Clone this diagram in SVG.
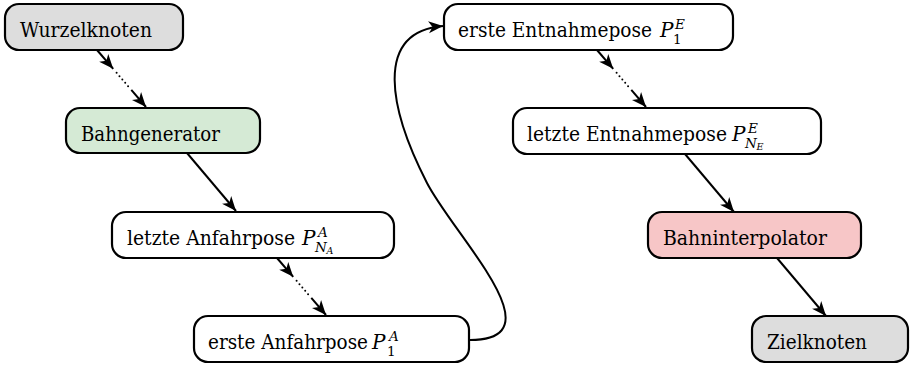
<svg xmlns="http://www.w3.org/2000/svg" xmlns:xlink="http://www.w3.org/1999/xlink" width="913" height="366" viewBox="0 0 913 366">
  <style>
    .node rect { stroke: #000; stroke-width: 2.2; }
    .plain { fill: #fff; }
    .grey { fill: #dddddd; }
    .green { fill: #d5ead5; }
    .red { fill: #f7c6c7; }
    .lbl { font-family: 'DejaVu Serif', 'Liberation Serif', serif; font-size: 20px; fill: #000; }
    .m { font-style: italic; }
    .up { font-style: normal; }
    .s { font-size: 13.5px; }
    .ss { font-size: 9.5px; }
    .edge { fill: none; stroke: #000; stroke-width: 2; }
    .dots { stroke-dasharray: 0 4.4; stroke-linecap: round; }
  </style>
  <defs>
    <marker id="head" markerUnits="userSpaceOnUse" markerWidth="18" markerHeight="16" viewBox="-16 -8 18 16" refX="0" refY="0" orient="auto">
      <path d="M0,0 L-14.5,-6 L-10.5,0 L-14.5,6 Z" fill="#000"/>
    </marker>
    <!-- arrow, dotted gap, arrow: stands for an elided chain of poses -->
    <g id="dotarrow">
      <path class="edge" d="M0,0 L16.2,18.8" marker-end="url(#head)"/>
      <path class="edge dots" d="M19.6,22.8 L31.9,37.1"/>
      <path class="edge" d="M34.3,39.9 L49,57" marker-end="url(#head)"/>
    </g>
  </defs>

  <g id="connectors">
    <use xlink:href="#dotarrow" href="#dotarrow" x="97" y="50"/>
    <path class="edge" d="M187,153 L236,211" marker-end="url(#head)"/>
    <use xlink:href="#dotarrow" href="#dotarrow" x="277" y="258"/>
    <path class="edge" d="M470,340 C560,340 454.5,236.3 427,183 C390.4,111.9 372,32 443,26" marker-end="url(#head)"/>
    <use xlink:href="#dotarrow" href="#dotarrow" x="597" y="50"/>
    <path class="edge" d="M685,154 L734,212" marker-end="url(#head)"/>
    <path class="edge" d="M777,258 L826,316" marker-end="url(#head)"/>
  </g>

  <g id="wurzelknoten" class="node">
    <rect class="grey" x="5" y="4" width="178" height="46" rx="14"/>
    <text class="lbl" x="20" y="36.5" textLength="132" lengthAdjust="spacingAndGlyphs">Wurzelknoten</text>
  </g>

  <g id="bahngenerator" class="node">
    <rect class="green" x="66" y="108" width="194" height="45" rx="14"/>
    <text class="lbl" x="81" y="140.5" textLength="139" lengthAdjust="spacingAndGlyphs">Bahngenerator</text>
  </g>

  <g id="letzte-anfahrpose" class="node">
    <rect class="plain" x="112" y="212" width="282" height="46" rx="14"/>
    <text class="lbl" x="127" y="244.5" textLength="168" lengthAdjust="spacingAndGlyphs">letzte Anfahrpose</text>
    <text class="lbl m" x="302" y="244.5">P<tspan class="s" x="318" y="236.5">A</tspan><tspan class="s" x="315" y="251.5">N</tspan><tspan class="ss" x="326.5" y="253.5">A</tspan></text>
  </g>

  <g id="erste-anfahrpose" class="node">
    <rect class="plain" x="194" y="316" width="275" height="46" rx="14"/>
    <text class="lbl" x="208" y="348.5" textLength="160" lengthAdjust="spacingAndGlyphs">erste Anfahrpose</text>
    <text class="lbl m" x="372" y="348.5">P<tspan class="s" x="389" y="340.5">A</tspan><tspan class="s up" x="387" y="355.5">1</tspan></text>
  </g>

  <g id="erste-entnahmepose" class="node">
    <rect class="plain" x="444" y="4" width="289" height="46" rx="14"/>
    <text class="lbl" x="458" y="36.5" textLength="194" lengthAdjust="spacingAndGlyphs">erste Entnahmepose</text>
    <text class="lbl m" x="660" y="36.5">P<tspan class="s" x="675" y="28.5">E</tspan><tspan class="s up" x="673" y="43.5">1</tspan></text>
  </g>

  <g id="letzte-entnahmepose" class="node">
    <rect class="plain" x="513" y="108" width="308" height="46" rx="14"/>
    <text class="lbl" x="527" y="140.5" textLength="200" lengthAdjust="spacingAndGlyphs">letzte Entnahmepose</text>
    <text class="lbl m" x="732" y="140.5">P<tspan class="s" x="748" y="132.5">E</tspan><tspan class="s" x="745" y="147.5">N</tspan><tspan class="ss" x="756.5" y="149.5">E</tspan></text>
  </g>

  <g id="bahninterpolator" class="node">
    <rect class="red" x="648" y="212" width="213" height="46" rx="14"/>
    <text class="lbl" x="663" y="244.5" textLength="164" lengthAdjust="spacingAndGlyphs">Bahninterpolator</text>
  </g>

  <g id="zielknoten" class="node">
    <rect class="grey" x="752" y="316" width="156" height="46" rx="14"/>
    <text class="lbl" x="767" y="348.5" textLength="100" lengthAdjust="spacingAndGlyphs">Zielknoten</text>
  </g>
</svg>
